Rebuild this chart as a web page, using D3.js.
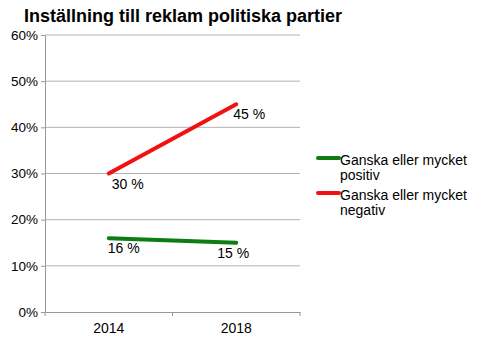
<!DOCTYPE html>
<html><head><meta charset="utf-8">
<script src="https://cdn.jsdelivr.net/npm/d3@7"></script>
<style>body{margin:0;background:#fff}svg{display:block;font-family:"Liberation Sans",Arial,Helvetica,sans-serif}</style>
</head><body>
<script>
const title = "Inställning till reklam politiska partier";
const years = ["2014", "2018"];
const positiv = [16, 15];
const negativ = [30, 45];
const seriesNames = [["Ganska eller mycket", "positiv"], ["Ganska eller mycket", "negativ"]];
const seriesColors = ["#0b7d12", "#f21111"];
const yTicks = [0, 10, 20, 30, 40, 50, 60];
const series = [positiv, negativ];

const W = 480, H = 342;
const svg = d3.select("body").append("svg").attr("width", W).attr("height", H);
const x = d3.scaleBand().domain(years).range([45, 300]);
const y = d3.scaleLinear().domain([0, 60]).range([312, 35]);

svg.append("text").attr("x", 24).attr("y", 22).attr("font-size", 18).attr("font-weight", "bold").attr("fill", "#000").text(title);

// grid
svg.append("g").selectAll("line").data(yTicks.filter(d => d > 0)).join("line")
  .attr("x1", 45).attr("x2", 300).attr("y1", d => y(d)).attr("y2", d => y(d))
  .attr("stroke", "#b3b3b3").attr("stroke-width", 1);

const yAxis = svg.append("g").attr("transform", "translate(45,0)")
  .call(d3.axisLeft(y).tickValues(yTicks).tickFormat(d => d + "%").tickSize(4).tickSizeOuter(0));
yAxis.select(".domain").attr("stroke", "#999");
yAxis.selectAll(".tick line").attr("stroke", "#999");
yAxis.selectAll(".tick text").attr("font-size", 13.5).attr("fill", "#000").attr("x", -7).attr("font-family", "Liberation Sans, Arial, sans-serif");

const xAxis = svg.append("g").attr("transform", "translate(0,312)")
  .call(d3.axisBottom(x).tickSize(0).tickSizeOuter(0));
xAxis.select(".domain").attr("stroke", "#999");
xAxis.selectAll(".tick text").attr("font-size", 14).attr("fill", "#000").attr("dy", 0).attr("y", 21).attr("font-family", "Liberation Sans, Arial, sans-serif");
// band boundary ticks
const bounds = [x.range()[0], ...years.slice(1).map(d => x(d)), x.range()[1]];
svg.append("g").selectAll("line").data(bounds).join("line")
  .attr("x1", d => d).attr("x2", d => d).attr("y1", 312).attr("y2", 316).attr("stroke", "#999");

const cx = d => x(d) + x.bandwidth() / 2;
const line = d3.line().x((d, i) => cx(years[i])).y(d => y(d));
series.forEach((s, k) => {
  svg.append("path").datum(s).attr("d", line).attr("fill", "none")
    .attr("stroke", seriesColors[k]).attr("stroke-width", 4).attr("stroke-linecap", "round");
  svg.append("g").selectAll("text").data(s).join("text")
    .attr("x", (d, i) => cx(years[i]) + (i === 0 ? -1 + k * 4 : -19 + k * 16))
    .attr("y", (d, i) => y(d) + 15 + (i === 1 && k === 0 ? 0 : 0))
    .attr("font-size", 14).attr("fill", "#000")
    .text(d => d + " %");
});

// legend
const lg = svg.append("g");
seriesNames.forEach((nm, k) => {
  const ly = 158 + k * 35;
  lg.append("line").attr("x1", 318).attr("x2", 339).attr("y1", ly).attr("y2", ly)
    .attr("stroke", seriesColors[k]).attr("stroke-width", 4).attr("stroke-linecap", "round");
  const t = lg.append("text").attr("x", 340).attr("y", ly + 7).attr("font-size", 14).attr("fill", "#000");
  nm.forEach((s, j) => t.append("tspan").attr("x", 340).attr("dy", j === 0 ? 0 : 15).text(s));
});
</script>
</body></html>
